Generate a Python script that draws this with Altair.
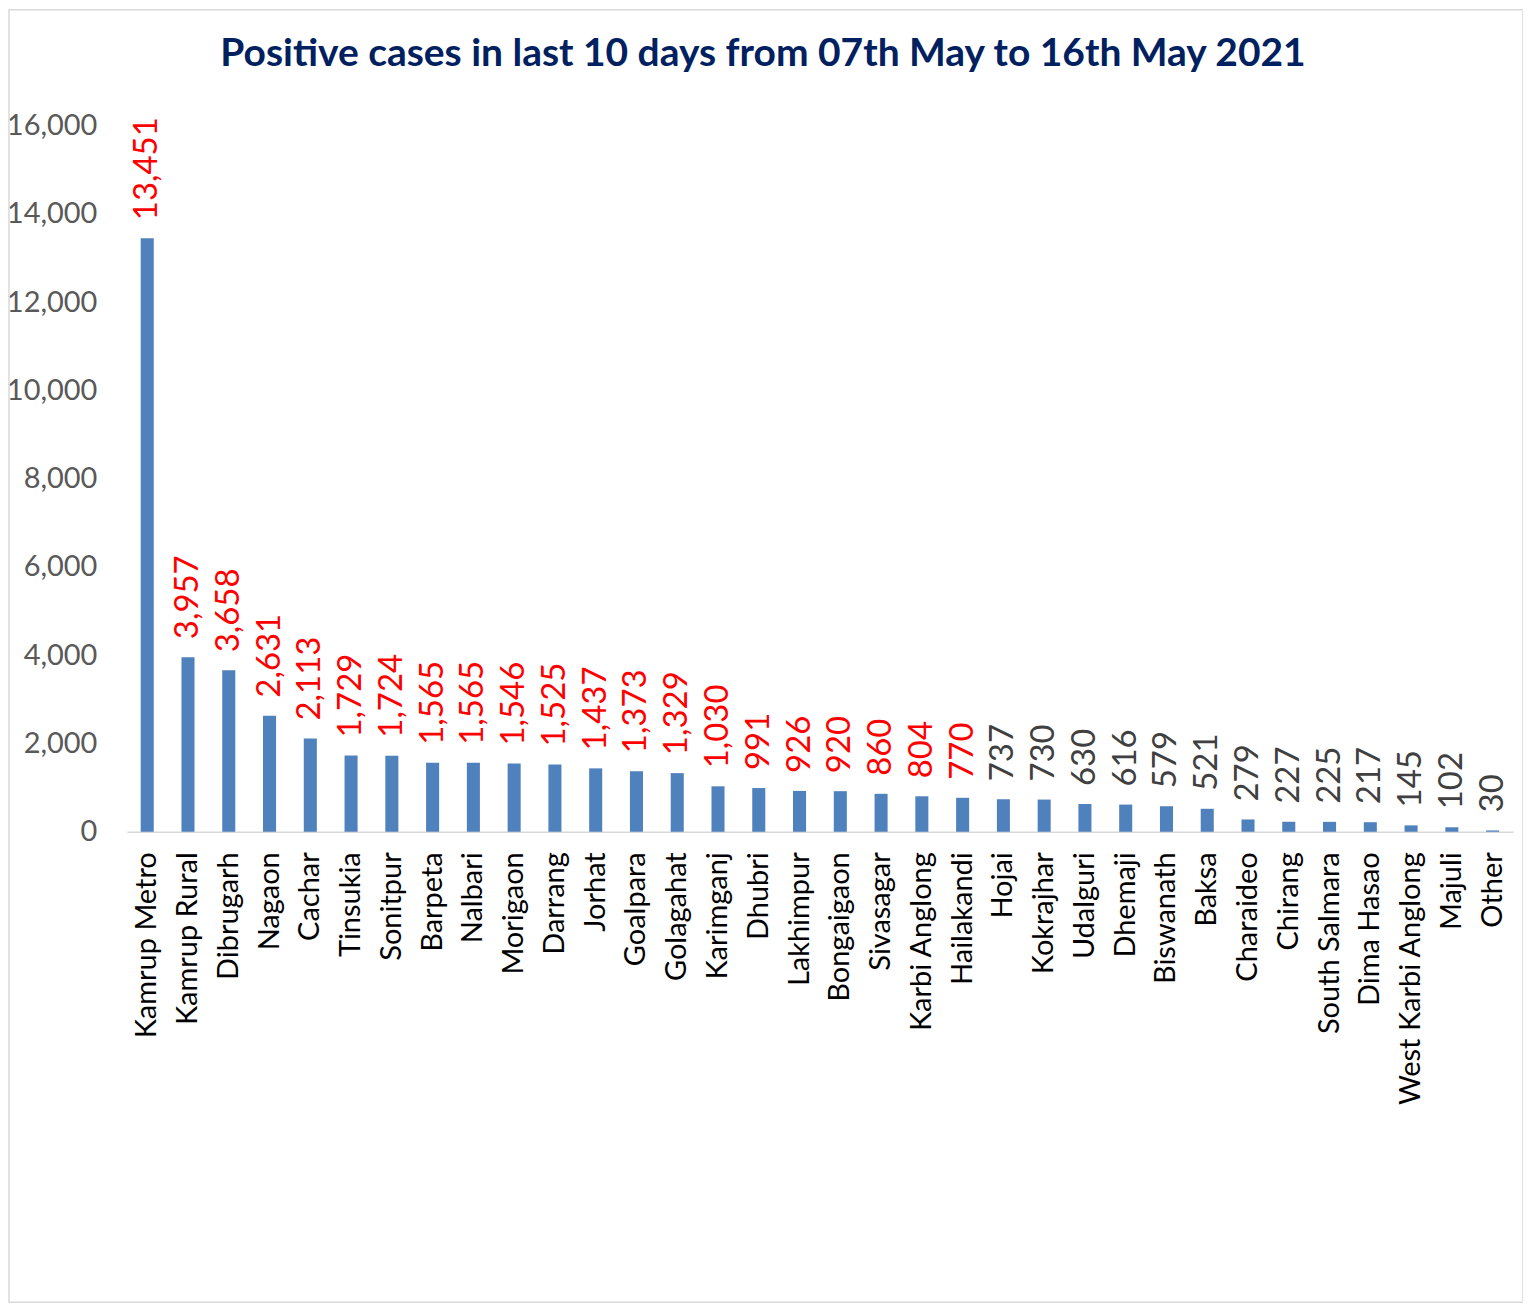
import altair as alt
import pandas as pd

districts = ["Kamrup Metro", "Kamrup Rural", "Dibrugarh", "Nagaon", "Cachar", "Tinsukia",
             "Sonitpur", "Barpeta", "Nalbari", "Morigaon", "Darrang", "Jorhat", "Goalpara",
             "Golagahat", "Karimganj", "Dhubri", "Lakhimpur", "Bongaigaon", "Sivasagar",
             "Karbi Anglong", "Hailakandi", "Hojai", "Kokrajhar", "Udalguri", "Dhemaji",
             "Biswanath", "Baksa", "Charaideo", "Chirang", "South Salmara", "Dima Hasao",
             "West Karbi Anglong", "Majuli", "Other"]
cases = [13451, 3957, 3658, 2631, 2113, 1729, 1724, 1565, 1565, 1546, 1525, 1437, 1373,
         1329, 1030, 991, 926, 920, 860, 804, 770, 737, 730, 630, 616, 579, 521, 279,
         227, 225, 217, 145, 102, 30]
y_ticks = [0, 2000, 4000, 6000, 8000, 10000, 12000, 14000, 16000]

df = pd.DataFrame({"district": districts, "cases": cases})

W, H = 1388, 707

x_enc = alt.X("district:N", sort=districts, title=None,
              scale=alt.Scale(paddingInner=0.68, paddingOuter=0.34),
              axis=alt.Axis(labelAngle=-90, labelFontSize=29, labelFont="Lato",
                            labelColor="#000000", ticks=False, domainColor="#d9d9d9",
                            domainWidth=1.5, labelPadding=20, labelLimit=400))
y_enc = alt.Y("cases:Q", title=None,
              scale=alt.Scale(domain=[0, 16000], nice=False),
              axis=alt.Axis(values=y_ticks, format=",d", grid=False, domain=False,
                            ticks=False, labelFontSize=29, labelFont="Lato",
                            labelColor="#595959", labelPadding=30))

base = alt.Chart(df)

bars = base.mark_bar(color="#4F81BD").encode(x=x_enc, y=y_enc)

labels = base.mark_text(angle=270, align="left", baseline="middle", dx=18,
                        fontSize=33, font="Lato").encode(
    x=alt.X("district:N", sort=districts),
    y="cases:Q",
    text=alt.Text("cases:Q", format=",d"),
    color=alt.condition(alt.datum.cases >= 770, alt.value("#FF0000"), alt.value("#404040")),
)

border = alt.Chart(pd.DataFrame({"a": [0]})).mark_rect(
    fill=None, stroke="#d9d9d9", strokeWidth=1.5).encode(
    x=alt.value(-118), x2=alt.value(1398), y=alt.value(-116), y2=alt.value(1178))

chart = alt.layer(border, bars, labels).properties(
    width=W, height=H,
    title=alt.TitleParams(
        "Positive cases in last 10 days from 07th May to 16th May 2021",
        font="Lato", fontSize=39, fontWeight="bold", color="#002060",
        anchor="middle", dx=-57, offset=-65),
    autosize=alt.AutoSizeParams(type="none"),
    padding={"left": 119, "top": 117, "right": 10, "bottom": 480},
).configure_view(stroke=None)

chart.save("out.html", embed_options={"renderer": "svg", "actions": False})
